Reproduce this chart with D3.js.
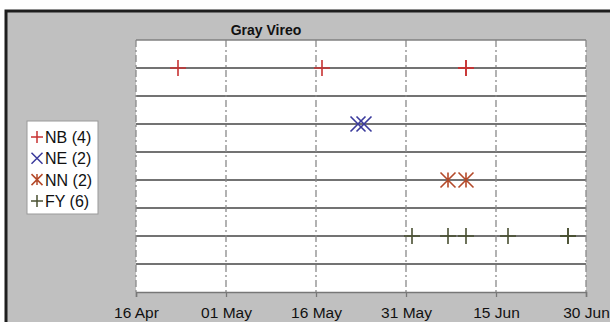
<!DOCTYPE html>
<html>
<head>
<meta charset="utf-8">
<script src="https://cdn.jsdelivr.net/npm/d3@7"></script>
<style>
  body { margin: 0; background: #fff; }
  svg { display: block; font-family: "Liberation Sans", Arial, sans-serif; }
</style>
</head>
<body>
<div id="chart"></div>
<script>
// Observation dates per category (row = y level)
const categories = ["NB", "NE", "NN", "FY"];
const rows = [8, 6, 4, 2];
const nbDates = ["2000-04-23", "2000-05-17", "2000-06-10", "2000-06-10"];
const neDates = ["2000-05-23", "2000-05-24"];
const nnDates = ["2000-06-07", "2000-06-10"];
const fyDates = ["2000-06-01", "2000-06-07", "2000-06-10", "2000-06-17", "2000-06-27", "2000-06-27"];
const tickDates = ["2000-04-16", "2000-05-01", "2000-05-16", "2000-05-31", "2000-06-15", "2000-06-30"];
const title = "Gray Vireo";

const seriesDates = [nbDates, neDates, nnDates, fyDates];
const colors = ["#c83232", "#3a3a9c", "#b44a2a", "#4a5032"];
const shapes = ["plus", "cross", "star", "plus"];

const W = 610, H = 322;
const plot = { left: 136, right: 586, top: 40, bottom: 292 };
const parse = d3.timeParse("%Y-%m-%d");

const svg = d3.select("#chart").append("svg")
  .attr("width", W)
  .attr("height", H);

// gray frame with dark border
svg.append("rect")
  .attr("x", 6).attr("y", 11)
  .attr("width", W + 10).attr("height", H + 10)
  .attr("fill", "#c0c0c0")
  .attr("stroke", "#1e1e1e")
  .attr("stroke-width", 3);

const x = d3.scaleTime()
  .domain([parse(tickDates[0]), parse(tickDates[tickDates.length - 1])])
  .range([plot.left, plot.right]);

const y = d3.scaleLinear()
  .domain([0, 9])
  .range([plot.bottom, plot.top]);

svg.append("rect")
  .attr("x", plot.left).attr("y", plot.top)
  .attr("width", plot.right - plot.left)
  .attr("height", plot.bottom - plot.top)
  .attr("fill", "#fff");

// horizontal row lines
svg.append("g")
  .selectAll("line")
  .data(d3.range(1, 9))
  .join("line")
  .attr("x1", plot.left).attr("x2", plot.right)
  .attr("y1", d => y(d)).attr("y2", d => y(d))
  .attr("stroke", "#444")
  .attr("stroke-width", 1.5);

// vertical dash-dot grid
svg.append("g")
  .selectAll("line")
  .data(tickDates.map(parse))
  .join("line")
  .attr("x1", d => x(d)).attr("x2", d => x(d))
  .attr("y1", plot.top).attr("y2", plot.bottom)
  .attr("stroke", "#8a8a8a")
  .attr("stroke-width", 1.3)
  .attr("stroke-dasharray", "7,3,2,3");

// top border
svg.append("line")
  .attr("x1", plot.left).attr("x2", plot.right)
  .attr("y1", plot.top).attr("y2", plot.top)
  .attr("stroke", "#808080")
  .attr("stroke-width", 1.5);

// x axis
const xAxis = d3.axisBottom(x)
  .tickValues(tickDates.map(parse))
  .tickFormat(d3.timeFormat("%d %b"))
  .tickSize(5)
  .tickPadding(10);

const axisG = svg.append("g")
  .attr("transform", `translate(0,${plot.bottom})`)
  .call(xAxis);
axisG.select(".domain").attr("stroke", "#777").attr("stroke-width", 1.5);
axisG.selectAll(".tick line").attr("stroke", "#777").attr("stroke-width", 1.3);
axisG.selectAll(".tick text")
  .attr("fill", "#111")
  .style("font-size", "15.5px")
  .style("font-family", "'Liberation Sans', Arial, sans-serif");

// marker paths
function markerPath(shape, s) {
  if (shape === "plus") return `M${-s},0H${s}M0,${-s}V${s}`;
  if (shape === "cross") return `M${-s},${-s}L${s},${s}M${-s},${s}L${s},${-s}`;
  return `M${-s},${-s}L${s},${s}M${-s},${s}L${s},${-s}M0,${-s}V${s}`;
}

const marks = svg.append("g");
seriesDates.forEach((dates, i) => {
  const s = shapes[i] === "plus" ? 8 : 7.5;
  marks.selectAll(`.m${i}`)
    .data(dates.map(parse))
    .join("path")
    .attr("class", `m${i}`)
    .attr("transform", d => `translate(${x(d)},${y(rows[i])})`)
    .attr("d", markerPath(shapes[i], s))
    .attr("fill", "none")
    .attr("stroke", colors[i])
    .attr("stroke-width", 1.6);
});

// title
svg.append("text")
  .attr("x", 266).attr("y", 35)
  .attr("text-anchor", "middle")
  .style("font-size", "14px")
  .style("font-weight", "bold")
  .attr("fill", "#111")
  .text(title);

// legend
const legend = svg.append("g");
legend.append("rect")
  .attr("x", 27).attr("y", 121)
  .attr("width", 71).attr("height", 93)
  .attr("fill", "#fff")
  .attr("stroke", "#999")
  .attr("stroke-width", 1);

categories.forEach((c, i) => {
  const ly = 137 + i * 21.3;
  legend.append("path")
    .attr("transform", `translate(37,${ly})`)
    .attr("d", markerPath(shapes[i], shapes[i] === "plus" ? 6 : 5.5))
    .attr("fill", "none")
    .attr("stroke", colors[i])
    .attr("stroke-width", 1.5);
  legend.append("text")
    .attr("x", 45).attr("y", ly + 6)
    .style("font-size", "16px")
    .attr("fill", "#111")
    .text(`${c} (${seriesDates[i].length})`);
});
</script>
</body>
</html>
